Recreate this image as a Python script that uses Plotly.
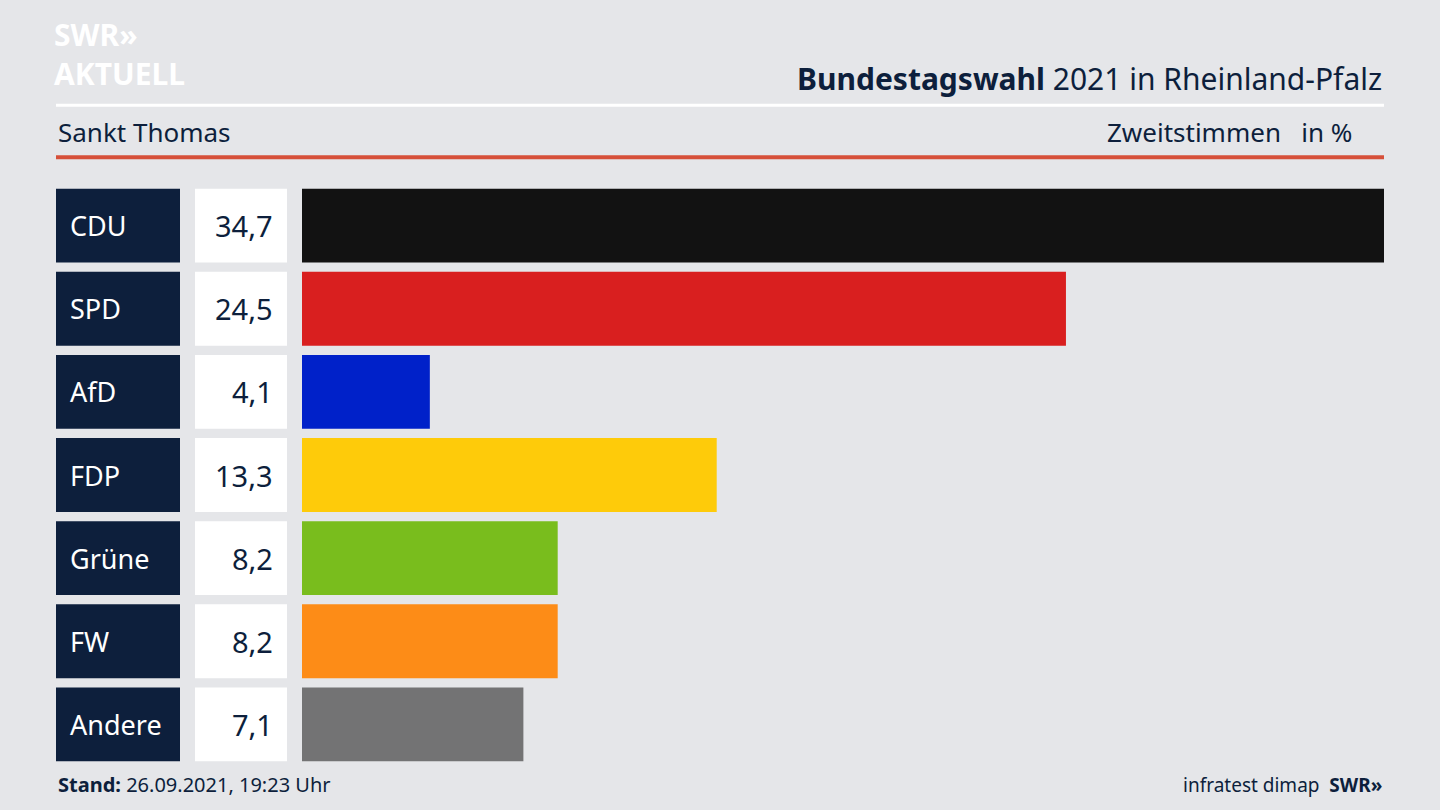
import plotly.graph_objects as go

parties = ["CDU", "SPD", "AfD", "FDP", "Grüne", "FW", "Andere"]
values = [34.7, 24.5, 4.1, 13.3, 8.2, 8.2, 7.1]
value_labels = ["34,7", "24,5", "4,1", "13,3", "8,2", "8,2", "7,1"]
colors = ["#121212", "#d91f1f", "#0021c9", "#fecb0a", "#79bd1d", "#fd8c17", "#737374"]

W, H = 1440, 810
L, R, T, B = 302, 1384, 183.8, 766.2
def px(x): return (x - L) / (R - L)
def py(y): return (B - y) / (B - T)

navy = "#0d1f3c"
font = "Noto Sans"

fig = go.Figure(go.Bar(x=values, y=parties, orientation="h", marker_color=colors,
                       marker_line_width=0, hoverinfo="skip"))

shapes = []
ann = []
for i, (p, v) in enumerate(zip(parties, value_labels)):
    shapes.append(dict(type="rect", xref="paper", yref="y", x0=px(56), x1=px(180),
                       y0=i - 0.444, y1=i + 0.444, fillcolor=navy, line_width=0, layer="below"))
    shapes.append(dict(type="rect", xref="paper", yref="y", x0=px(195), x1=px(287),
                       y0=i - 0.444, y1=i + 0.444, fillcolor="white", line_width=0, layer="below"))
    ann.append(dict(xref="paper", yref="y", x=px(68), y=p, text=p, showarrow=False,
                    xanchor="left", font=dict(family=font, size=27, color="white")))
    ann.append(dict(xref="paper", yref="y", x=px(275), y=p, text=v, showarrow=False,
                    xanchor="right", font=dict(family=font, size=29, color=navy)))

shapes.append(dict(type="line", xref="paper", yref="paper", x0=px(56), x1=px(1384),
                   y0=py(105), y1=py(105), line=dict(color="white", width=3)))
shapes.append(dict(type="line", xref="paper", yref="paper", x0=px(56), x1=px(1384),
                   y0=py(157), y1=py(157), line=dict(color="#d6503a", width=4)))

def txt(x, y, t, size, anchor="left", color=navy, align="left"):
    ann.append(dict(xref="paper", yref="paper", x=px(x), y=py(y), text=t, showarrow=False,
                    xanchor=anchor, yanchor="middle", align=align,
                    font=dict(family=font, size=size, color=color)))

txt(52, 54, "<b>SWR»<br>AKTUELL</b>", 30, color="white")
txt(1384, 78, "<b>Bundestagswahl</b> 2021 in Rheinland-Pfalz", 30, "right")
txt(56, 132, "Sankt Thomas", 26)
txt(1354, 132, "Zweitstimmen   in %", 26, "right")
txt(56, 785, "<b>Stand:</b> 26.09.2021, 19:23 Uhr", 20)
txt(1384, 785, "infratest dimap  <b>SWR»</b>", 19, "right")

fig.update_layout(
    width=W, height=H, margin=dict(l=L, r=W - R, t=T, b=H - B),
    paper_bgcolor="#e5e6e9", plot_bgcolor="rgba(0,0,0,0)",
    bargap=0.112, showlegend=False, shapes=shapes, annotations=ann,
    xaxis=dict(range=[0, 34.7], visible=False, fixedrange=True),
    yaxis=dict(autorange="reversed", visible=False, fixedrange=True,
               categoryorder="array", categoryarray=parties),
)
fig.write_html("out.html", config={"displayModeBar": False},
               post_script="document.body.style.margin='0';document.body.style.overflow='hidden';")
